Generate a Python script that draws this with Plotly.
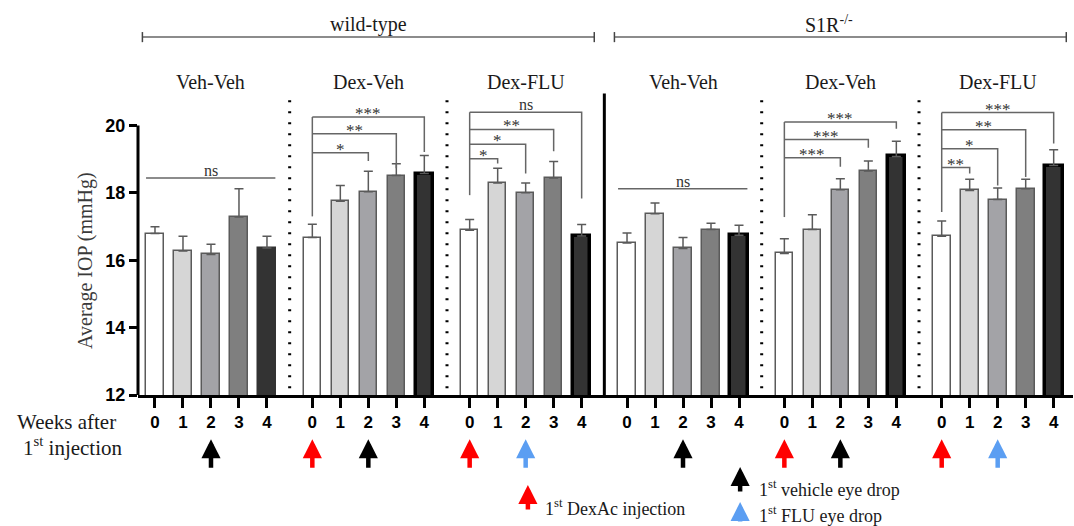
import plotly.graph_objects as go

# ---------------- data ----------------
weeks = ["0", "1", "2", "3", "4"]
panel_titles = ["Veh-Veh", "Dex-Veh", "Dex-FLU", "Veh-Veh", "Dex-Veh", "Dex-FLU"]
strains = ["wild-type", "S1R<sup>-/-</sup>"]

wt_vehveh_mean = [16.79, 16.27, 16.17, 17.28, 16.36]
wt_vehveh_sem = [0.20, 0.44, 0.30, 0.84, 0.35]
wt_dexveh_mean = [16.67, 17.75, 18.03, 18.51, 18.57]
wt_dexveh_sem = [0.40, 0.47, 0.61, 0.35, 0.54]
wt_dexflu_mean = [16.89, 18.29, 18.00, 18.44, 16.72]
wt_dexflu_sem = [0.32, 0.44, 0.29, 0.49, 0.34]
ko_vehveh_mean = [16.51, 17.38, 16.35, 16.91, 16.74]
ko_vehveh_sem = [0.30, 0.32, 0.32, 0.19, 0.30]
ko_dexveh_mean = [16.20, 16.91, 18.09, 18.65, 19.08]
ko_dexveh_sem = [0.44, 0.44, 0.33, 0.29, 0.45]
ko_dexflu_mean = [16.71, 18.07, 17.80, 18.12, 18.81]
ko_dexflu_sem = [0.45, 0.33, 0.34, 0.28, 0.47]

means = [wt_vehveh_mean, wt_dexveh_mean, wt_dexflu_mean,
         ko_vehveh_mean, ko_dexveh_mean, ko_dexflu_mean]
sems = [wt_vehveh_sem, wt_dexveh_sem, wt_dexflu_sem,
        ko_vehveh_sem, ko_dexveh_sem, ko_dexflu_sem]

# significance labels: panel -> list of (compared week index, label)
sig_labels = {
    1: [(2, "*"), (3, "**"), (4, "***")],
    2: [(1, "*"), (2, "*"), (3, "**"), (4, "ns")],
    4: [(2, "***"), (3, "***"), (4, "***")],
    5: [(1, "**"), (2, "*"), (3, "**"), (4, "***")],
}
ns_panels = [0, 3]

# arrows: (panel, week index, kind)
arrow_marks = [(0, 2, "veh"), (1, 0, "dex"), (1, 2, "veh"), (2, 0, "dex"), (2, 2, "flu"),
               (3, 2, "veh"), (4, 0, "dex"), (4, 2, "veh"), (5, 0, "dex"), (5, 2, "flu")]

# ---------------- layout helpers (positions / styles) ----------------
G = 5.62  # panel spacing in bar units
bar_fill = ["#ffffff", "#d6d6d6", "#a3a3a7", "#7f7f7f", "#333333"]
arrow_col = {"dex": "#ff0000", "veh": "#000000", "flu": "#5b9ef2"}
SERIF = "Liberation Serif, Times New Roman, serif"
SANS = "Liberation Sans, Arial, sans-serif"

# bracket geometry per panel: (left leg bottom, [(level, right leg bottom), ...])
bracket_geom = {
    1: (17.30, [(19.19, 18.94), (19.75, 18.73), (20.25, 19.21)]),
    2: (17.93, [(19.01, 18.87), (19.44, 18.57), (19.88, 19.23), (20.39, 17.83)]),
    4: (17.28, [(19.04, 18.77), (19.58, 19.34), (20.10, 19.90)]),
    5: (17.43, [(18.75, 18.57), (19.31, 18.22), (19.87, 18.47), (20.38, 19.46)]),
}
ns_level = {0: 18.44, 3: 18.12}

fig = go.Figure()
tickvals, ticktext = [], []
for p in range(6):
    xs = [p * G + i for i in range(5)]
    tickvals += xs
    ticktext += weeks
    lw = [1.5, 1.5, 1.5, 1.5, 1.5 if p == 0 else 3.5]
    lc = ["#5a5a5a"] * 4 + ["#333333" if p == 0 else "#000000"]
    fig.add_trace(go.Bar(
        x=xs, y=means[p], width=0.63,
        marker=dict(color=bar_fill, line=dict(color=lc, width=lw)),
        error_y=dict(type="data", symmetric=False, array=sems[p],
                     arrayminus=[0] * 5, color="#5a5a5a", thickness=1.5, width=4.5),
        showlegend=False, hoverinfo="skip"))

shapes = []
annotations = []

# y axis line (12..20 only)
shapes.append(dict(type="line", xref="paper", yref="y", x0=0, x1=0, y0=12, y1=20,
                   line=dict(color="black", width=3)))

# separators
for s in range(5):
    xsep = s * G + (4 + G) / 2
    if s == 2:
        shapes.append(dict(type="line", xref="x", yref="y", x0=xsep, x1=xsep, y0=12, y1=20.95,
                           line=dict(color="black", width=3)))
    else:
        shapes.append(dict(type="line", xref="x", yref="y", x0=xsep, x1=xsep, y0=12.2, y1=20.95,
                           line=dict(color="black", width=3, dash="2px,9px")))

# panel titles
for p, t in enumerate(panel_titles):
    annotations.append(dict(x=p * G + 2, y=21.28, xref="x", yref="y", text=t, showarrow=False,
                            xanchor="center", yanchor="middle",
                            font=dict(family=SERIF, size=20, color="#1a1a1a")))

# ns lines
for p in ns_panels:
    y = ns_level[p]
    shapes.append(dict(type="line", xref="x", yref="y", x0=p * G - 0.32, x1=p * G + 4.3, y0=y, y1=y,
                       line=dict(color="#666666", width=1.5)))
    annotations.append(dict(x=p * G + 2, y=y, xref="x", yref="y", text="ns", showarrow=False,
                            xanchor="center", yanchor="bottom", yshift=-3,
                            font=dict(family=SERIF, size=16, color="#333333")))

# brackets
for p, items in sig_labels.items():
    left_bottom, geom = bracket_geom[p]
    x0 = p * G
    top = max(g[0] for g in geom)
    shapes.append(dict(type="line", xref="x", yref="y", x0=x0, x1=x0, y0=left_bottom, y1=top,
                       line=dict(color="#666666", width=1.5)))
    for (wi, lab), (lvl, rb) in zip(items, geom):
        xi = p * G + wi
        shapes.append(dict(type="path", xref="x", yref="y",
                           path=f"M {x0},{lvl} L {xi},{lvl} L {xi},{rb}",
                           line=dict(color="#666666", width=1.5)))
        annotations.append(dict(x=(x0 + xi) / 2, y=lvl, xref="x", yref="y", text=lab,
                                showarrow=False, xanchor="center", yanchor="bottom",
                                yshift=-8 if lab != "ns" else -3,
                                font=dict(family=SERIF, size=17 if lab != "ns" else 16,
                                          color="#333333")))

# strain header lines
spans = [(-0.45, 2 * G + 4.45, strains[0], 0.0), (3 * G - 0.45, 5 * G + 4.45, strains[1], -0.4)]
for a, b, lab, off in spans:
    shapes.append(dict(type="line", xref="x", yref="paper", x0=a, x1=b, y0=1.062, y1=1.062,
                       line=dict(color="#666666", width=1.5)))
    for xe in (a, b):
        shapes.append(dict(type="line", xref="x", yref="paper", x0=xe, x1=xe, y0=1.047, y1=1.077,
                           line=dict(color="#444444", width=1.5)))
    annotations.append(dict(x=(a + b) / 2 + off, y=1.062, xref="x", yref="paper", text=lab,
                            showarrow=False, xanchor="center", yanchor="bottom", yshift=-1,
                            font=dict(family=SERIF, size=20, color="#1a1a1a")))

# arrows under x axis
for p, wi, kind in arrow_marks:
    annotations.append(dict(x=p * G + wi, y=-0.131, xref="x", yref="paper", text="",
                            showarrow=True, ax=0, ay=30, arrowhead=2, arrowsize=0.85,
                            arrowwidth=4.5, arrowcolor=arrow_col[kind], standoff=0))

# axis side labels
annotations.append(dict(x=-0.057, y=16, xref="paper", yref="y", text="Average IOP (mmHg)",
                        textangle=-90, showarrow=False, xanchor="center", yanchor="middle",
                        font=dict(family=SERIF, size=20, color="#3a3a3a")))
annotations.append(dict(x=-0.077, y=-0.080, xref="paper", yref="paper", text="Weeks after",
                        showarrow=False, xanchor="center", yanchor="middle",
                        font=dict(family=SERIF, size=21, color="#1a1a1a")))
annotations.append(dict(x=-0.0695, y=-0.154, xref="paper", yref="paper",
                        text="1<sup>st</sup> injection", xanchor="center", yanchor="middle",
                        showarrow=False, font=dict(family=SERIF, size=21, color="#1a1a1a")))

# legend (bottom)
leg = [(0.417, -0.267, 26, "dex", 0.433, -0.335, "1<sup>st</sup> DexAc injection"),
       (0.644, -0.2136, 26, "veh", 0.662, -0.276, "1<sup>st</sup> vehicle eye drop"),
       (0.644, -0.3175, 21, "flu", 0.662, -0.356, "1<sup>st</sup> FLU eye drop")]
for ax_, ay_, ln, kind, tx, ty, txt in leg:
    annotations.append(dict(x=ax_, y=ay_, xref="paper", yref="paper", text="", showarrow=True,
                            ax=0, ay=ln, arrowhead=2, arrowsize=0.85, arrowwidth=4.5,
                            arrowcolor=arrow_col[kind], standoff=0))
    annotations.append(dict(x=tx, y=ty, xref="paper", yref="paper", text=txt, showarrow=False,
                            xanchor="left", yanchor="middle",
                            font=dict(family=SERIF, size=18, color="#1a1a1a")))

fig.update_layout(
    width=1074, height=526,
    margin=dict(l=138, r=1, t=58, b=131, autoexpand=False),
    paper_bgcolor="white", plot_bgcolor="white",
    bargap=0, shapes=shapes, annotations=annotations,
    xaxis=dict(range=[-0.607, 32.79], tickvals=tickvals, ticktext=ticktext, automargin=False,
               showline=True, linecolor="black", linewidth=3, ticks="outside",
               ticklen=10, tickwidth=3, tickcolor="black", showgrid=False, zeroline=False,
               tickfont=dict(family=SANS, size=17, color="black", weight="bold")),
    yaxis=dict(range=[12, 22], tickvals=[12, 14, 16, 18, 20], showline=False, ticks="outside",
               automargin=False,
               ticklen=8, tickwidth=3, tickcolor="black", showgrid=False, zeroline=False,
               tickfont=dict(family=SANS, size=18, color="black", weight="bold")),
)

fig.write_html("out.html", config={"displayModeBar": False},
               post_script="document.body.style.margin='0px';")
